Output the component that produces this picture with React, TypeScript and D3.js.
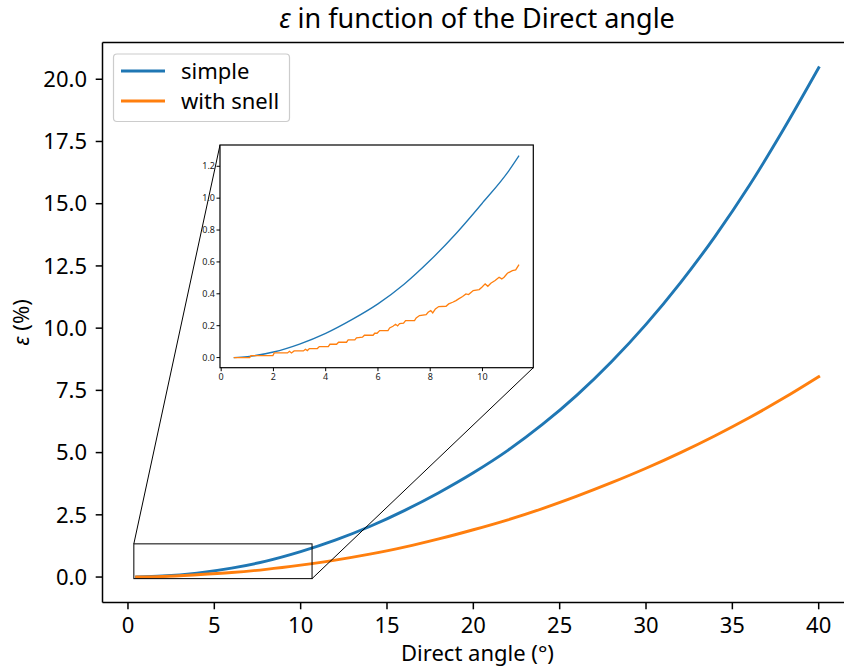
import React from "react";
import * as d3 from "d3";

// ---- main data ----
const angles = [0.5, 2, 4, 6, 8, 10, 12, 14, 16, 18, 20, 22, 24, 26, 28, 30, 32, 34, 36, 38, 40];
const simpleVals = [0, 0.04, 0.16, 0.36, 0.64, 1.02, 1.48, 2.03, 2.67, 3.39, 4.19, 5.09, 6.13, 7.31, 8.65, 10.15, 11.83, 13.69, 15.75, 18.03, 20.46];
const snellVals = [0, 0.02, 0.09, 0.18, 0.31, 0.48, 0.68, 0.92, 1.2, 1.53, 1.9, 2.3, 2.75, 3.25, 3.79, 4.37, 5.0, 5.68, 6.41, 7.2, 8.05];

// ---- inset data ----
const insetSimpleX = [0.48, 1, 2, 3, 4, 5, 6, 7, 8, 9, 10, 11, 11.4];
const insetSimpleY = [0, 0.006, 0.035, 0.085, 0.152, 0.238, 0.337, 0.46, 0.61, 0.78, 0.97, 1.17, 1.267];
const insetSnellX = [0.481, 1.091, 1.141, 1.979, 2.03, 2.538, 2.614, 2.69, 2.792, 3.147, 3.223, 3.299, 3.375, 3.68, 3.756, 4.099, 4.162, 4.416, 4.493, 4.797, 4.861, 5.115, 5.178, 5.407, 5.483, 5.813, 5.876, 5.965, 6.067, 6.384, 6.447, 6.574, 6.676, 6.752, 6.828, 6.98, 7.057, 7.399, 7.463, 7.59, 7.844, 7.92, 8.021, 8.097, 8.199, 8.326, 8.605, 8.707, 8.859, 8.986, 9.088, 9.24, 9.367, 9.468, 9.57, 9.646, 9.875, 9.976, 10.103, 10.205, 10.319, 10.484, 10.636, 10.738, 10.827, 10.954, 11.144, 11.271, 11.398];
const insetSnellY = [0, 0, 0.0125, 0.0125, 0.0293, 0.0293, 0.0397, 0.0293, 0.0418, 0.0418, 0.0523, 0.0439, 0.0565, 0.0565, 0.069, 0.069, 0.0836, 0.0836, 0.0962, 0.0962, 0.1108, 0.1108, 0.1234, 0.1276, 0.1401, 0.1401, 0.1527, 0.1527, 0.1694, 0.1694, 0.1861, 0.1966, 0.2091, 0.1987, 0.2133, 0.2154, 0.2321, 0.2321, 0.2488, 0.2635, 0.2698, 0.2844, 0.2949, 0.2802, 0.3053, 0.32, 0.322, 0.3367, 0.3471, 0.3576, 0.368, 0.3827, 0.3994, 0.3952, 0.4099, 0.4203, 0.4266, 0.4412, 0.4622, 0.4475, 0.4663, 0.4831, 0.504, 0.4935, 0.504, 0.5291, 0.5458, 0.55, 0.5834];

const xTicks = [0, 5, 10, 15, 20, 25, 30, 35, 40];
const yTicks = [0, 2.5, 5, 7.5, 10, 12.5, 15, 17.5, 20];
const insetXTicks = [0, 2, 4, 6, 8, 10];
const insetYTicks = [0, 0.2, 0.4, 0.6, 0.8, 1.0, 1.2];
const zoomBox = { x0: 0.34, x1: 10.66 };

const BLUE = "#1f77b4";
const ORANGE = "#ff7f0e";
const FONT = "Noto Sans";

export default function App() {
  const W = 844, H = 666;
  const L = 102.5, R = 852.8, T = 42.6, B = 602.5;
  const x = d3.scaleLinear().domain([-1.475, 41.975]).range([L, R]);
  const y = d3.scaleLinear().domain([-1.0225, 21.4725]).range([B, T]);

  const ix = d3.scaleLinear().domain([-0.045, 11.945]).range([220, 533.3]);
  const iy = d3.scaleLinear().domain([-0.0635, 1.3335]).range([367.7, 145]);

  const mainLine = (xs: number[], ys: number[]) =>
    d3.line<number>().x((_, i) => x(xs[i])).y((d) => y(d)).curve(d3.curveMonotoneX)(ys) || "";
  const insetLine = (xs: number[], ys: number[], curve: any) =>
    d3.line<number>().x((_, i) => ix(xs[i])).y((d) => iy(d)).curve(curve)(ys) || "";

  const [iyMin, iyMax] = iy.domain();
  const rx0 = x(zoomBox.x0), rx1 = x(zoomBox.x1);
  const ry0 = y(iyMax), ry1 = y(iyMin);
  const [ixL, ixR] = ix.range();
  const [iyB, iyT] = iy.range();

  return (
    <svg width={W} height={H} style={{ position: "absolute", left: 0, top: 0, background: "#fff" }} fontFamily={FONT}>
      <defs>
        <clipPath id="mainClip">
          <rect x={L} y={T} width={R - L} height={B - T} />
        </clipPath>
      </defs>
      <rect x={0} y={0} width={W} height={H} fill="#fff" />
      {/* title */}
      <text x={477} y={28} textAnchor="middle" fontSize={27} fill="#000">
        <tspan fontStyle="italic">ε</tspan> in function of the Direct angle
      </text>

      {/* main lines */}
      <g clipPath="url(#mainClip)">
        <path d={mainLine(angles, simpleVals)} fill="none" stroke={BLUE} strokeWidth={2.9} strokeLinejoin="round" strokeLinecap="square" />
        <path d={mainLine(angles, snellVals)} fill="none" stroke={ORANGE} strokeWidth={2.9} strokeLinejoin="round" strokeLinecap="square" />
        {/* zoom rectangle */}
        <rect x={rx0} y={ry0} width={rx1 - rx0} height={ry1 - ry0} fill="none" stroke="#000" strokeWidth={1} />
        {/* connectors */}
        <line x1={rx0} y1={ry0} x2={ixL} y2={iyT} stroke="#000" strokeWidth={1} />
        <line x1={rx1} y1={ry1} x2={ixR} y2={iyB} stroke="#000" strokeWidth={1} />
      </g>

      {/* main axes spines */}
      <line x1={L} y1={T} x2={L} y2={B} stroke="#000" strokeWidth={1.5} />
      <line x1={L} y1={B} x2={W} y2={B} stroke="#000" strokeWidth={1.5} />
      <line x1={L} y1={T} x2={W} y2={T} stroke="#000" strokeWidth={1.5} />

      {/* x ticks */}
      {xTicks.map((t) => (
        <g key={"xt" + t}>
          <line x1={x(t)} x2={x(t)} y1={B} y2={B + 6.8} stroke="#000" strokeWidth={1.5} />
          <text x={x(t)} y={633} textAnchor="middle" fontSize={22} fill="#000">{t}</text>
        </g>
      ))}
      {/* y ticks */}
      {yTicks.map((t) => (
        <g key={"yt" + t}>
          <line x1={L - 6.8} x2={L} y1={y(t)} y2={y(t)} stroke="#000" strokeWidth={1.5} />
          <text x={87} y={y(t) + 7.7} textAnchor="end" fontSize={22} fill="#000">{t.toFixed(1)}</text>
        </g>
      ))}
      <text x={477.5} y={661} textAnchor="middle" fontSize={22} fill="#000">Direct angle (°)</text>
      <text transform={`translate(29,${322.5}) rotate(-90)`} textAnchor="middle" fontSize={22} fill="#000">
        <tspan fontStyle="italic">ε</tspan> (%)
      </text>

      {/* legend */}
      <rect x={113.5} y={54} width={176} height={67.5} rx={3.5} fill="#fff" fillOpacity={0.8} stroke="#ccc" strokeWidth={1.2} />
      <line x1={121} x2={165} y1={71} y2={71} stroke={BLUE} strokeWidth={2.9} />
      <text x={181} y={78.5} fontSize={22} fill="#000">simple</text>
      <line x1={121} x2={165} y1={101} y2={101} stroke={ORANGE} strokeWidth={2.9} />
      <text x={181} y={108.5} fontSize={22} fill="#000">with snell</text>

      {/* inset axes */}
      <rect x={ixL} y={iyT} width={ixR - ixL} height={iyB - iyT} fill="#fff" />
      <path d={insetLine(insetSimpleX, insetSimpleY, d3.curveMonotoneX)} fill="none" stroke={BLUE} strokeWidth={1.3} />
      <path d={insetLine(insetSnellX, insetSnellY, d3.curveLinear)} fill="none" stroke={ORANGE} strokeWidth={1.3} />
      <rect x={ixL} y={iyT} width={ixR - ixL} height={iyB - iyT} fill="none" stroke="#000" strokeWidth={1.2} />
      {insetXTicks.map((t) => (
        <g key={"ixt" + t}>
          <line x1={ix(t)} x2={ix(t)} y1={iyB} y2={iyB + 3.5} stroke="#000" strokeWidth={1} />
          <text x={ix(t)} y={iyB + 12.5} textAnchor="middle" fontSize={9} fill="#222">{t}</text>
        </g>
      ))}
      {insetYTicks.map((t) => (
        <g key={"iyt" + t}>
          <line x1={ixL - 3.5} x2={ixL} y1={iy(t)} y2={iy(t)} stroke="#000" strokeWidth={1} />
          <text x={ixL - 5} y={iy(t) + 3.2} textAnchor="end" fontSize={9} fill="#222">{t.toFixed(1)}</text>
        </g>
      ))}
    </svg>
  );
}
